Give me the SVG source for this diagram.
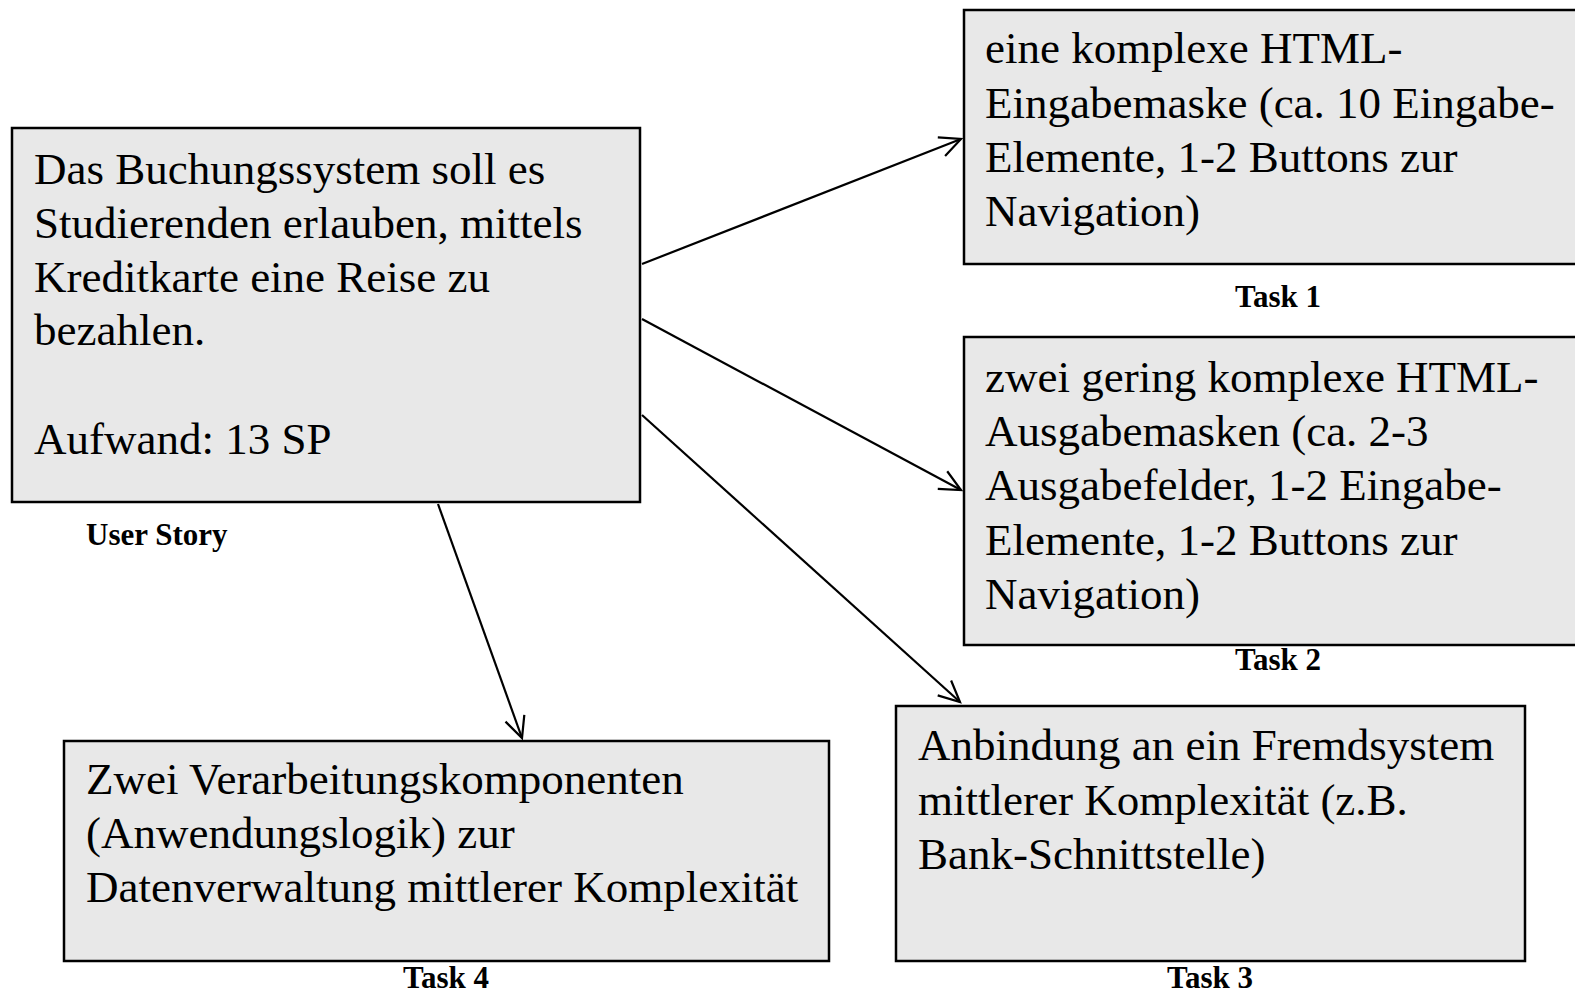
<svg xmlns="http://www.w3.org/2000/svg" width="1575" height="994" viewBox="0 0 1575 994">
<style>
.box{fill:#e8e8e8;stroke:#000;stroke-width:2.5}
.t{font-family:"Liberation Serif","Times New Roman",serif;font-size:45px;fill:#000}
.lbl{font-family:"Liberation Serif","Times New Roman",serif;font-size:31px;font-weight:bold;fill:#000}
.con{stroke:#000;stroke-width:2.2;fill:none;marker-end:url(#arr)}
</style>
<defs>
<marker id="arr" viewBox="0 0 12 12" refX="11" refY="6" markerWidth="12" markerHeight="12" markerUnits="userSpaceOnUse" orient="auto" overflow="visible">
<path d="M-10,-4 L11,6 L-10,16" fill="none" stroke="#000" stroke-width="2.2"/>
</marker>
</defs>
<rect width="1575" height="994" fill="#fff"/>
<g id="connectors">
<line class="con" x1="642" y1="264" x2="961" y2="139"/>
<line class="con" x1="642" y1="319" x2="961" y2="490"/>
<line class="con" x1="642" y1="415" x2="960" y2="702"/>
<line class="con" x1="438" y1="504" x2="522" y2="738"/>
</g>
<g id="userstory">
<rect class="box" x="12" y="128" width="628" height="374"/>
<text class="t" x="34" y="184">Das Buchungssystem soll es</text>
<text class="t" x="34" y="238">Studierenden erlauben, mittels</text>
<text class="t" x="34" y="292">Kreditkarte eine Reise zu</text>
<text class="t" x="34" y="345">bezahlen.</text>
<text class="t" x="34" y="454">Aufwand: 13 SP</text>
<text class="lbl" x="86" y="545">User Story</text>
</g>
<g id="task1">
<rect class="box" x="964" y="10" width="630" height="254"/>
<text class="t" x="985" y="63">eine komplexe HTML-</text>
<text class="t" x="985" y="118">Eingabemaske (ca. 10 Eingabe-</text>
<text class="t" x="985" y="172">Elemente, 1-2 Buttons zur</text>
<text class="t" x="985" y="226">Navigation)</text>
<text class="lbl" x="1278" y="307" text-anchor="middle">Task 1</text>
</g>
<g id="task2">
<rect class="box" x="964" y="337" width="630" height="308"/>
<text class="t" x="985" y="392">zwei gering komplexe HTML-</text>
<text class="t" x="985" y="446">Ausgabemasken (ca. 2-3</text>
<text class="t" x="985" y="500">Ausgabefelder, 1-2 Eingabe-</text>
<text class="t" x="985" y="555">Elemente, 1-2 Buttons zur</text>
<text class="t" x="985" y="609">Navigation)</text>
<text class="lbl" x="1278" y="670" text-anchor="middle">Task 2</text>
</g>
<g id="task3">
<rect class="box" x="896" y="706" width="629" height="255"/>
<text class="t" x="918" y="760">Anbindung an ein Fremdsystem</text>
<text class="t" x="918" y="815">mittlerer Komplexität (z.B.</text>
<text class="t" x="918" y="869">Bank-Schnittstelle)</text>
<text class="lbl" x="1210" y="988" text-anchor="middle">Task 3</text>
</g>
<g id="task4">
<rect class="box" x="64" y="741" width="765" height="220"/>
<text class="t" x="86" y="794">Zwei Verarbeitungskomponenten</text>
<text class="t" x="86" y="848">(Anwendungslogik) zur</text>
<text class="t" x="86" y="902">Datenverwaltung mittlerer Komplexität</text>
<text class="lbl" x="446" y="988" text-anchor="middle">Task 4</text>
</g>
</svg>
